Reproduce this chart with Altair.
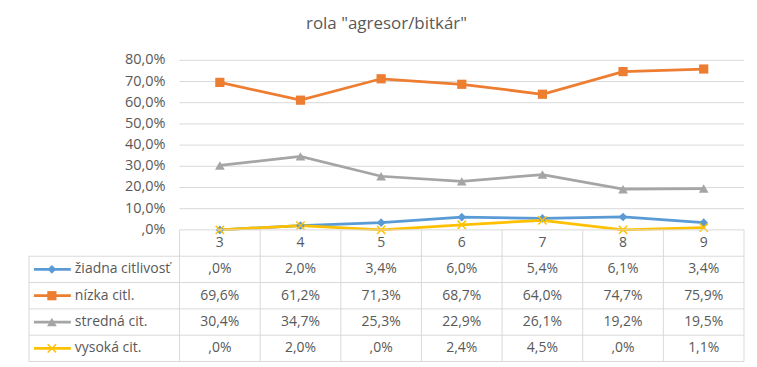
import altair as alt
import pandas as pd

title_text = 'rola "agresor/bitkár"'
categories = [3, 4, 5, 6, 7, 8, 9]
series_names = ["žiadna citlivosť", "nízka citl.", "stredná cit.", "vysoká cit."]
ziadna = [0.0, 2.0, 3.4, 6.0, 5.4, 6.1, 3.4]
nizka = [69.6, 61.2, 71.3, 68.7, 64.0, 74.7, 75.9]
stredna = [30.4, 34.7, 25.3, 22.9, 26.1, 19.2, 19.5]
vysoka = [0.0, 2.0, 0.0, 2.4, 4.5, 0.0, 1.1]
series_colors = ["#5B9BD5", "#ED7D31", "#A5A5A5", "#FFC000"]
y_ticks = [0, 10, 20, 30, 40, 50, 60, 70, 80]

FONT = "Open Sans"
TXT = "#595959"
GRID = "#d9d9d9"
PX = 80.86             # pixels per category
X0 = 2.5 - 151 / PX    # left edge of the label column
XMAX = 9.5
W = 717


def fmt(v):
    s = f"{v:.1f}".replace(".", ",")
    if s.startswith("0,"):
        s = s[1:]
    return s + "%"


rows = []
for i, (name, vals) in enumerate(zip(series_names, [ziadna, nizka, stredna, vysoka])):
    for c, v in zip(categories, vals):
        rows.append({"series": name, "cat": c, "value": v, "label": fmt(v), "r": i + 1.5})
df = pd.DataFrame(rows)

xscale = alt.Scale(domain=[X0, XMAX], nice=False, zero=False)
yscale = alt.Scale(domain=[0, 80], nice=False, zero=False)
color_scale = alt.Scale(domain=series_names, range=series_colors)
shape_scale = alt.Scale(domain=series_names[:3], range=["diamond", "square", "triangle-up"])
size_scale = alt.Scale(domain=series_names[:3], range=[75, 95, 95])
XSHAPE = "M-1,-1L1,1M-1,1L1,-1"

# ---------- top: line chart ----------
grid_df = pd.DataFrame({"v": y_ticks, "lab": [fmt(t) for t in y_ticks]})
grid_df["xa"] = 2.5
grid_df["xb"] = XMAX

grid = alt.Chart(grid_df).transform_filter("datum.v > 0").mark_rule(
    color=GRID, strokeWidth=1
).encode(
    x=alt.X("xa:Q", scale=xscale, axis=None),
    x2="xb:Q",
    y=alt.Y("v:Q", scale=yscale, axis=None),
)
ylabels = alt.Chart(grid_df).mark_text(
    align="right", baseline="middle", dx=-14, font=FONT, fontSize=14.5, color=TXT
).encode(
    x=alt.X("xa:Q", scale=xscale, axis=None),
    y=alt.Y("v:Q", scale=yscale, axis=None),
    text="lab:N",
)

X = alt.X("cat:Q", scale=xscale, axis=None)
Y = alt.Y("value:Q", scale=yscale, axis=None)
C = alt.Color("series:N", scale=color_scale, legend=None)

lines = alt.Chart(df).mark_line(strokeWidth=2.75).encode(x=X, y=Y, color=C)
pts = alt.Chart(df).transform_filter(
    alt.datum.series != series_names[3]
).mark_point(filled=True, opacity=1).encode(
    x=X, y=Y, color=C,
    shape=alt.Shape("series:N", scale=shape_scale, legend=None),
    size=alt.Size("series:N", scale=size_scale, legend=None),
)
xpts = alt.Chart(df).transform_filter(
    alt.datum.series == series_names[3]
).mark_point(shape=XSHAPE, filled=False, size=70, strokeWidth=1.5, color=series_colors[3], opacity=1).encode(
    x=X, y=Y
)

top = alt.layer(grid, ylabels, lines, pts, xpts).properties(width=W, height=170)

# ---------- bottom: data table ----------
tyscale = alt.Scale(domain=[0, 5], reverse=True, nice=False, zero=False)

hdr_df = pd.DataFrame({"cat": categories, "lab": [str(c) for c in categories]})
hdr_df["r"] = 0.5

h_df = pd.DataFrame({"r": [0, 1, 2, 3, 4, 5]})
h_df["xa"] = [2.5] + [X0] * 5
h_df["xb"] = XMAX
v_df = pd.DataFrame({"x": [c - 0.5 for c in categories] + [XMAX, X0]})
v_df["ra"] = [0] * (len(categories) + 1) + [1]
v_df["rb"] = 5

key_df = pd.DataFrame({"series": series_names, "r": [i + 1.5 for i in range(len(series_names))]})

hlines = alt.Chart(h_df).mark_rule(color=GRID, strokeWidth=1).encode(
    x=alt.X("xa:Q", scale=xscale, axis=None), x2="xb:Q",
    y=alt.Y("r:Q", scale=tyscale, axis=None),
)
vlines = alt.Chart(v_df).mark_rule(color=GRID, strokeWidth=1).encode(
    x=alt.X("x:Q", scale=xscale, axis=None),
    y=alt.Y("ra:Q", scale=tyscale, axis=None), y2="rb:Q",
)
hdr = alt.Chart(hdr_df).mark_text(font=FONT, fontSize=14, color=TXT, baseline="middle").encode(
    x=alt.X("cat:Q", scale=xscale, axis=None),
    y=alt.Y("r:Q", scale=tyscale, axis=None),
    text="lab:N",
)
cells = alt.Chart(df).mark_text(font=FONT, fontSize=14, color=TXT, baseline="middle").encode(
    x=alt.X("cat:Q", scale=xscale, axis=None),
    y=alt.Y("r:Q", scale=tyscale, axis=None),
    text="label:N",
)
TY = alt.Y("r:Q", scale=tyscale, axis=None)
key_lines = alt.Chart(key_df).mark_rule(strokeWidth=2.75).encode(
    x=alt.value(5), x2=alt.value(42), y=TY, color=C
)
key_pts = alt.Chart(key_df).transform_filter(
    alt.datum.series != series_names[3]
).mark_point(filled=True, opacity=1).encode(
    x=alt.value(23), y=TY, color=C,
    shape=alt.Shape("series:N", scale=shape_scale, legend=None),
    size=alt.Size("series:N", scale=size_scale, legend=None),
)
key_x = alt.Chart(key_df).transform_filter(
    alt.datum.series == series_names[3]
).mark_point(shape=XSHAPE, filled=False, size=70, strokeWidth=1.5, color=series_colors[3], opacity=1).encode(
    x=alt.value(23), y=TY
)
key_text = alt.Chart(key_df).mark_text(
    font=FONT, fontSize=14, color=TXT, align="left", baseline="middle"
).encode(x=alt.value(46), y=TY, text="series:N")

table = alt.layer(hlines, vlines, hdr, cells, key_lines, key_pts, key_x, key_text).properties(
    width=W, height=132
)

chart = alt.vconcat(
    top, table, spacing=0, bounds="flush",
    title=alt.TitleParams(
        text=title_text, font=FONT, fontSize=17, color=TXT, fontWeight="normal",
        anchor="middle", offset=19,
    ),
    padding={"left": 20, "top": 7, "right": 4, "bottom": 0},
).configure_view(strokeWidth=0)

chart.save("out.html", embed_options={"renderer": "svg", "actions": False})
